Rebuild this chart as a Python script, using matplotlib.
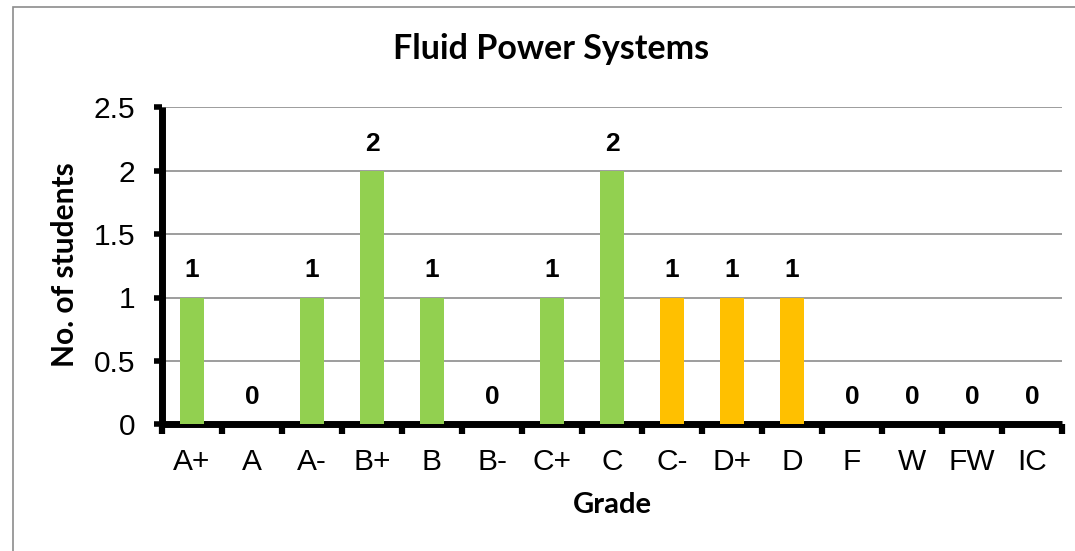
import matplotlib
matplotlib.use("Agg")
import matplotlib.pyplot as plt
import numpy as np
from matplotlib.patches import Rectangle

# grade distribution
grades = ["A+", "A", "A-", "B+", "B", "B-", "C+", "C", "C-", "D+", "D", "F", "W", "FW", "IC"]
students = [1, 0, 1, 2, 1, 0, 1, 2, 1, 1, 1, 0, 0, 0, 0]
bar_colors = ["#92D050"] * 8 + ["#FFC000"] * 3 + ["#92D050"] * 4

fig = plt.figure(figsize=(10.75, 5.51), dpi=100)
ax = fig.add_axes([162 / 1075, 1 - 424.3 / 551, 900 / 1075, 317 / 551])

x = np.arange(len(grades))
ax.bar(x, students, width=0.4, color=bar_colors, zorder=3)

for xi, v in zip(x, students):
    ax.annotate(str(v), (xi, v), xytext=(0, 19.5), textcoords="offset points",
                ha="center", va="center", fontsize=19, fontweight="bold",
                family="Liberation Sans")

ax.set_xlim(-0.5, len(grades) - 0.5)
ax.set_ylim(0, 2.5)
ax.set_yticks([0, 0.5, 1, 1.5, 2, 2.5])
ax.set_yticklabels(["0", "0.5", "1", "1.5", "2", "2.5"])
ax.set_xticks(x)
ax.set_xticklabels(grades)
ax.set_xticks(np.arange(-0.5, len(grades), 1), minor=True)

ax.yaxis.grid(True, color="#8c8c8c", linewidth=1.2, zorder=0)
ax.set_axisbelow(True)

for s in ["top", "right"]:
    ax.spines[s].set_visible(False)
for s in ["left", "bottom"]:
    ax.spines[s].set_linewidth(5)
    ax.spines[s].set_color("black")
    ax.spines[s].set_capstyle("butt")

ax.tick_params(axis="y", direction="out", length=6, width=4, pad=13,
               labelsize=21.5)
ax.tick_params(axis="x", which="major", length=0, pad=17, labelsize=21.5)
ax.tick_params(axis="x", which="minor", direction="out", length=7, width=4.5)
for lab in ax.get_xticklabels() + ax.get_yticklabels():
    lab.set_family("Liberation Sans")

fig.text(551 / 1075, 1 - 49 / 551, "Fluid Power Systems", ha="center", va="center",
         fontsize=24.5, fontweight="bold", family="Lato")
fig.text(612 / 1075, 1 - 505 / 551, "Grade", ha="center", va="center",
         fontsize=21, fontweight="bold", family="Lato")
fig.text(65 / 1075, 1 - 265 / 551, "No. of students", ha="center", va="center",
         rotation=90, fontsize=21.5, fontweight="bold", family="Lato")

# chart area border (only left/top edges fall inside the picture)
fig.patches.append(Rectangle((13 / 1075, -0.1), 1.2, 1 - 7 / 551 + 0.1,
                             transform=fig.transFigure, fill=False,
                             edgecolor="#8c8c8c", linewidth=1.2))

fig.savefig("out.png", dpi=100)
